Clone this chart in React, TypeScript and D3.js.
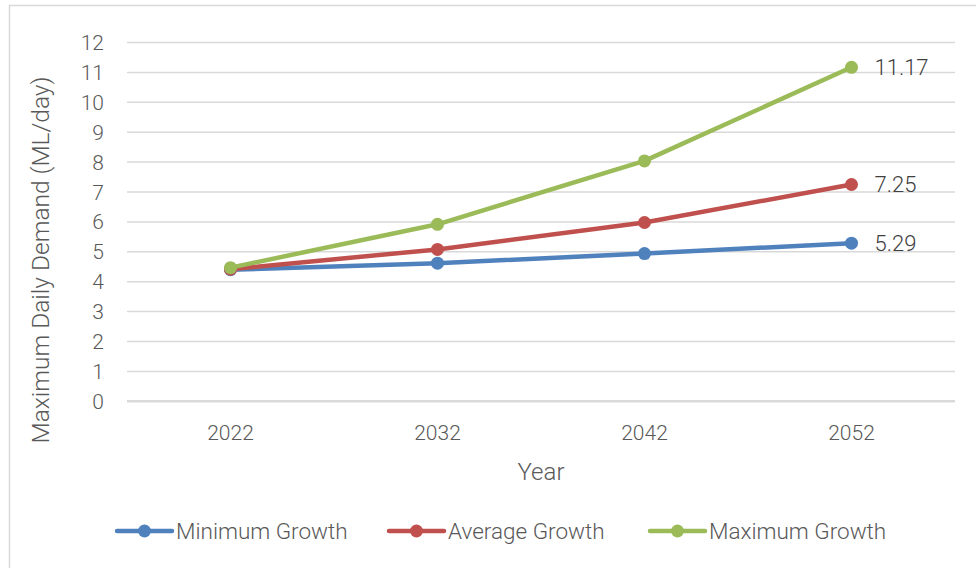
import React from "react";
import * as d3 from "d3";

const years = ["2022", "2032", "2042", "2052"];
const minimumGrowth = [4.40, 4.62, 4.94, 5.29];
const averageGrowth = [4.42, 5.08, 5.98, 7.25];
const maximumGrowth = [4.47, 5.92, 8.04, 11.17];
const yTicks = [0, 1, 2, 3, 4, 5, 6, 7, 8, 9, 10, 11, 12];
const seriesNames = ["Minimum Growth", "Average Growth", "Maximum Growth"];
const seriesColors = ["#4f81bd", "#c0504d", "#9bbb59"];
const endLabels = ["5.29", "7.25", "11.17"];

const W = 976;
const H = 568;
const FONT = "Roboto, 'Open Sans', sans-serif";
const TEXT = "#595959";

export default function App() {
  const x = d3.scaleBand<string>().domain(years).range([127, 955]);
  const y = d3.scaleLinear().domain([0, 12]).range([401.3, 42.5]);
  const cx = (c: string) => (x(c) ?? 0) + x.bandwidth() / 2;
  const data = [minimumGrowth, averageGrowth, maximumGrowth];
  const line = d3
    .line<number>()
    .x((_, i) => cx(years[i]))
    .y((v) => y(v));

  const legendX = [117, 389, 650];

  return (
    <div style={{ position: "fixed", left: 0, top: 0 }}>
      <svg width={W} height={H} style={{ display: "block", background: "#fff" }}>
        <rect x={9.5} y={5.5} width={W} height={H} fill="#fff" stroke="#d9d9d9" strokeWidth={1.5} />
        {yTicks.map((t) => (
          <g key={t}>
            <line
              x1={127}
              x2={955}
              y1={y(t)}
              y2={y(t)}
              stroke="#d9d9d9"
              strokeWidth={t === 0 ? 2.5 : 1.5}
            />
            <text
              x={104}
              y={y(t)}
              dy="0.36em"
              textAnchor="end"
              fontFamily={FONT}
              fontSize={21}
              fontWeight={300}
              fill={TEXT}
            >
              {t}
            </text>
          </g>
        ))}
        {years.map((c) => (
          <text
            key={c}
            x={cx(c)}
            y={432}
            dy="0.36em"
            textAnchor="middle"
            fontFamily={FONT}
            fontSize={21}
            fontWeight={300}
            fill={TEXT}
          >
            {c}
          </text>
        ))}
        <text
          x={541}
          y={471}
          dy="0.36em"
          textAnchor="middle"
          fontFamily={FONT}
          fontSize={24}
          fontWeight={300}
          fill={TEXT}
        >
          Year
        </text>
        <text
          transform={`translate(40, 260) rotate(-90)`}
          dy="0.36em"
          textAnchor="middle"
          fontFamily={FONT}
          fontSize={24.5}
          fontWeight={300}
          fill={TEXT}
        >
          Maximum Daily Demand (ML/day)
        </text>
        {data.map((vals, si) => (
          <g key={si}>
            <path
              d={line(vals) ?? ""}
              fill="none"
              stroke={seriesColors[si]}
              strokeWidth={4.5}
              strokeLinejoin="round"
              strokeLinecap="round"
            />
            {vals.map((v, i) => (
              <circle key={i} cx={cx(years[i])} cy={y(v)} r={6.5} fill={seriesColors[si]} />
            ))}
            <text
              x={cx(years[3]) + 23}
              y={y(vals[3])}
              dy="0.36em"
              fontFamily={FONT}
              fontSize={22}
              fontWeight={300}
              fill="#404040"
            >
              {endLabels[si]}
            </text>
          </g>
        ))}
        {seriesNames.map((n, si) => (
          <g key={n}>
            <line
              x1={legendX[si]}
              x2={legendX[si] + 55}
              y1={531}
              y2={531}
              stroke={seriesColors[si]}
              strokeWidth={4.5}
              strokeLinecap="round"
            />
            <circle cx={legendX[si] + 27.5} cy={531} r={6.5} fill={seriesColors[si]} />
            <text
              x={legendX[si] + 59}
              y={531}
              dy="0.36em"
              fontFamily={FONT}
              fontSize={22.5}
              fontWeight={300}
              fill={TEXT}
            >
              {n}
            </text>
          </g>
        ))}
      </svg>
    </div>
  );
}
